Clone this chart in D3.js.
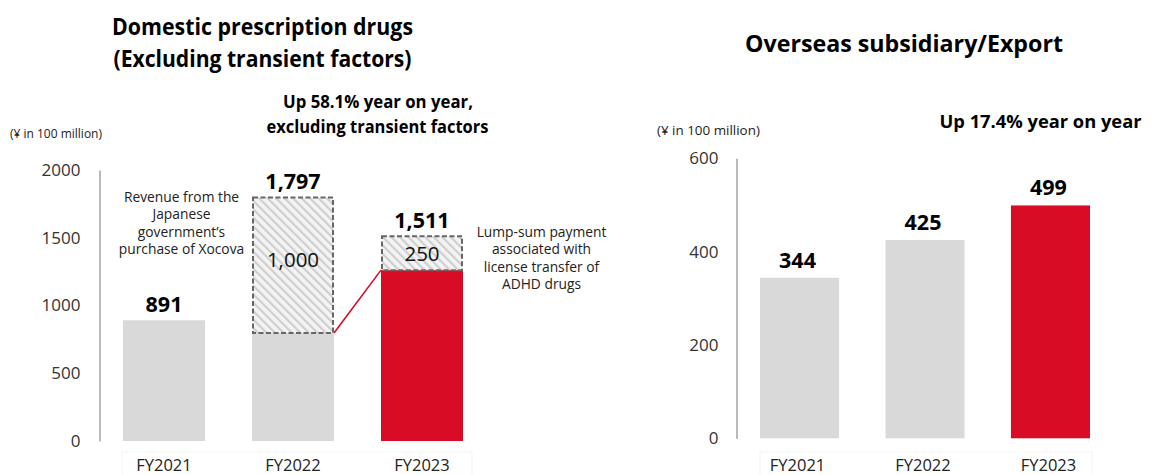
<!DOCTYPE html>
<html><head><meta charset="utf-8">
<script src="https://cdn.jsdelivr.net/npm/d3@7"></script>
<style>
html,body{margin:0;padding:0;background:#fff;}
svg{display:block;font-family:"Open Sans","Noto Sans",sans-serif;}
</style></head>
<body>
<svg id="chart" width="1172" height="475"></svg>
<script>
// ---- data ----
const categories = ["FY2021", "FY2022", "FY2023"];
const domesticBase = [891, 797, 1261];
const domesticTransient = [0, 1000, 250];
const domesticTotalLabels = ["891", "1,797", "1,511"];
const domesticTicks = [0, 500, 1000, 1500, 2000];
const overseasValues = [344, 425, 499];
const overseasLabels = ["344", "425", "499"];
const overseasTicks = [0, 200, 400, 600];

const GRAY = "#d9d9d9", RED = "#d80c24";
const svg = d3.select("#chart");

const defs = svg.append("defs");
const pat = defs.append("pattern").attr("id", "hatch").attr("patternUnits", "userSpaceOnUse")
  .attr("width", 6).attr("height", 6).attr("patternTransform", "rotate(-45)");
pat.append("rect").attr("width", 6).attr("height", 6).attr("fill", "#f4f4f4");
pat.append("rect").attr("x", 0).attr("width", 2.2).attr("height", 6).attr("fill", "#cfcfcf");

// match a text to a measured width by horizontal compression, keeping its height
function fit(sel, w) {
  const len = sel.node().getComputedTextLength();
  if (len > w) sel.attr("textLength", w).attr("lengthAdjust", "spacingAndGlyphs");
  else if (len > 0) sel.attr("font-size", (parseFloat(sel.attr("font-size")) * w / len).toFixed(2));
  return sel;
}
function txt(x, y, s, size, weight, anchor, color) {
  return svg.append("text").attr("x", x).attr("y", y).text(s)
    .attr("font-size", size).attr("font-weight", weight || 400)
    .attr("text-anchor", anchor || "middle").attr("dominant-baseline", "central")
    .attr("fill", color || "#000");
}

// ---- LEFT chart ----
const xL = d3.scaleBand().domain(categories).range([123, 463]).paddingInner(0.3643).paddingOuter(0);
const yL = d3.scaleLinear().domain([0, 2000]).range([441, 170]);

fit(txt(262.5, 25, "Domestic prescription drugs", 24, 700), 301);
fit(txt(262.5, 57, "(Excluding transient factors)", 24, 700), 298);
fit(txt(378, 100, "Up 58.1% year on year,", 18.5, 700), 190);
fit(txt(377.5, 125, "excluding transient factors", 18.5, 700), 222);
fit(txt(10, 133, "(¥ in 100 million)", 12.5, 400, "start", "#222"), 92);

// faint label box
svg.append("rect").attr("x", 122).attr("y", 452).attr("width", 350).attr("height", 30)
  .attr("fill", "none").attr("stroke", "#f3f3f3");

const axL = svg.append("g").attr("transform", "translate(99.5,0)")
  .call(d3.axisLeft(yL).tickValues(domesticTicks).tickSize(0).tickPadding(19).tickFormat(d3.format("d")));
axL.select(".domain").attr("stroke", "#8c8c8c").attr("stroke-width", 1.2);
axL.selectAll("text").attr("font-size", 17).attr("fill", "#333").attr("font-family", "Open Sans, Noto Sans, sans-serif");

svg.append("g").selectAll("rect").data(categories).join("rect")
  .attr("x", d => xL(d)).attr("width", xL.bandwidth())
  .attr("y", (d, i) => yL(domesticBase[i]))
  .attr("height", (d, i) => yL(0) - yL(domesticBase[i]))
  .attr("fill", (d, i) => i === 2 ? RED : GRAY);

// transient boxes
const tIdx = [1, 2];
svg.append("g").selectAll("rect").data(tIdx).join("rect")
  .attr("x", i => xL(categories[i]) + 1).attr("width", xL.bandwidth() - 2)
  .attr("y", i => yL(domesticBase[i] + domesticTransient[i]))
  .attr("height", i => yL(domesticBase[i]) - yL(domesticBase[i] + domesticTransient[i]))
  .attr("fill", "url(#hatch)").attr("stroke", "#666").attr("stroke-width", 2)
  .attr("stroke-dasharray", "5,2.5");

// connector line
svg.append("line")
  .attr("x1", xL("FY2022") + xL.bandwidth()).attr("y1", yL(domesticBase[1]))
  .attr("x2", xL("FY2023")).attr("y2", yL(domesticBase[2]))
  .attr("stroke", RED).attr("stroke-width", 1.6);

// transient value labels
tIdx.forEach(i => {
  const mid = (yL(domesticBase[i]) + yL(domesticBase[i] + domesticTransient[i])) / 2;
  txt(xL(categories[i]) + xL.bandwidth() / 2, i === 1 ? 259 : mid, d3.format(",")(domesticTransient[i]), 20.5, 400, "middle", "#111");
});

// total labels
categories.forEach((c, i) => {
  const top = yL(domesticBase[i] + domesticTransient[i]);
  txt(xL(c) + xL.bandwidth() / 2, top - 17, domesticTotalLabels[i], 21.5, 700);
  txt(xL(c) + xL.bandwidth() / 2, 464, c, 16.5, 400, "middle", "#222");
});

// annotations
["Revenue from the", "Japanese", "government’s", "purchase of Xocova"].forEach((s, k) =>
  txt(181.5, 196 + k * 17.6, s, 13.8, 400, "middle", "#222"));
["Lump-sum payment", "associated with", "license transfer of", "ADHD drugs"].forEach((s, k) =>
  txt(541.5, 231.5 + k * 17.3, s, 13.8, 400, "middle", "#222"));

// ---- RIGHT chart ----
const xR = d3.scaleBand().domain(categories).range([760, 1090]).paddingInner(0.37).paddingOuter(0);
const yR = d3.scaleLinear().domain([0, 600]).range([438.3, 158.3]);

fit(txt(904, 42, "Overseas subsidiary/Export", 24, 700), 318);
fit(txt(657, 130, "(¥ in 100 million)", 12.5, 400, "start", "#222"), 103);
fit(txt(1141.5, 120, "Up 17.4% year on year", 18.5, 700, "end"), 202);

const axR = svg.append("g").attr("transform", "translate(736.5,0)")
  .call(d3.axisLeft(yR).tickValues(overseasTicks).tickSize(0).tickPadding(18).tickFormat(d3.format("d")));
axR.select(".domain").attr("stroke", "#8c8c8c").attr("stroke-width", 1.2);
axR.selectAll("text").attr("font-size", 17).attr("fill", "#333").attr("font-family", "Open Sans, Noto Sans, sans-serif");

svg.append("rect").attr("x", 760).attr("y", 452).attr("width", 332).attr("height", 30)
  .attr("fill", "none").attr("stroke", "#f3f3f3");

svg.append("g").selectAll("rect").data(categories).join("rect")
  .attr("x", d => xR(d)).attr("width", xR.bandwidth())
  .attr("y", (d, i) => yR(overseasValues[i]))
  .attr("height", (d, i) => yR(0) - yR(overseasValues[i]))
  .attr("fill", (d, i) => i === 2 ? RED : GRAY);

categories.forEach((c, i) => {
  txt(xR(c) + xR.bandwidth() / 2 - 2, yR(overseasValues[i]) - 18.5, overseasLabels[i], 21.5, 700);
  txt(xR(c) + xR.bandwidth() / 2 - 2, 464, c, 16.5, 400, "middle", "#222");
});
</script>
</body></html>
